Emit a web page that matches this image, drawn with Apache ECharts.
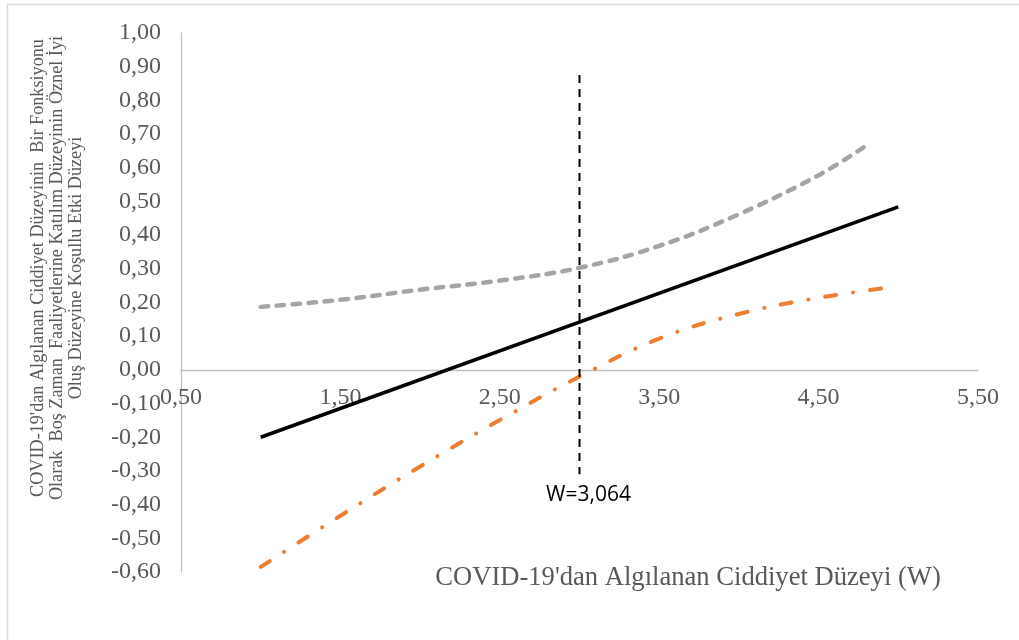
<!DOCTYPE html>
<html>
<head>
<meta charset="utf-8">
<script src="https://cdn.jsdelivr.net/npm/echarts@6/dist/echarts.min.js"></script>
<style>
html,body{margin:0;padding:0;background:#fff;}
#chart{width:1019px;height:640px;}
</style>
</head>
<body>
<div id="chart"></div>
<script>
// ---- data ----
const xTickValues = [0.5, 1.5, 2.5, 3.5, 4.5, 5.5];
const yMin = -0.6, yMax = 1.0, yStep = 0.1;

const effectX = [1.0, 5.0];
const effectY = [-0.20, 0.484];

const upperX = [1.0, 1.5, 2.0, 2.5, 3.0, 3.5, 4.0, 4.5, 4.79];
const upperY = [0.187, 0.208, 0.238, 0.265, 0.303, 0.368, 0.462, 0.578, 0.663];

const lowerX = [1.0, 1.5, 2.0, 2.5, 3.0, 3.5, 4.0, 4.5, 4.92];
const lowerY = [-0.585, -0.433, -0.287, -0.149, -0.02, 0.093, 0.166, 0.214, 0.243];

const jnLineX = [3.0, 3.0];
const jnLineY = [0.875, -0.31];
const jnLabel = 'W=3,064';

const xTitle = "COVID-19'dan Algılanan Ciddiyet Düzeyi (W)";
const yTitleLines = [
  "COVID-19'dan Algılanan Ciddiyet Düzeyinin  Bir Fonksiyonu",
  "Olarak  Boş Zaman  Faaliyetlerine Katılım Düzeyinin Öznel İyi",
  "Oluş Düzeyine Koşullu Etki Düzeyi"
];

// ---- build ----
const zip = (xs, ys) => xs.map((x, i) => [x, ys[i]]);
const fmt = v => v.toFixed(2).replace('.', ',');

const W = 1019, H = 640;
const grid = {left: 181, right: 41, top: 33, bottom: 68};
const plotH = H - grid.top - grid.bottom;
// move the x axis (line + labels) up to y = 0
const xAxisOffset = -((0 - yMin) / (yMax - yMin)) * plotH;

const chart = echarts.init(document.getElementById('chart'), null, {renderer: 'canvas'});
const serif = 'Liberation Serif';
const grey = '#595959';

chart.setOption({
  animation: false,
  backgroundColor: '#fff',
  grid: Object.assign({containLabel: false}, grid),
  xAxis: {
    type: 'value', min: 0.5, max: 5.5, position: 'bottom', offset: xAxisOffset,
    axisLine: {show: true, onZero: false, lineStyle: {color: '#bfbfbf', width: 1.3}},
    axisTick: {show: false},
    splitLine: {show: false},
    axisLabel: {
      customValues: xTickValues,
      formatter: fmt,
      fontFamily: serif, fontSize: 24, color: grey, margin: 16,
      showMinLabel: true, showMaxLabel: true
    }
  },
  yAxis: {
    type: 'value', min: yMin, max: yMax, interval: yStep,
    axisLine: {show: true, lineStyle: {color: '#bfbfbf', width: 1.3}},
    axisTick: {show: false},
    splitLine: {show: false},
    axisLabel: {formatter: fmt, fontFamily: serif, fontSize: 24, color: grey, margin: 20}
  },
  graphic: [
    {type: 'rect', left: 5, top: 2, shape: {x: 0, y: 0, width: 1030, height: 650},
     style: {fill: 'none', stroke: '#d9d9d9', lineWidth: 1.5}, silent: true, z: -1},
    {type: 'text', x: 688, y: 578,
     style: {text: xTitle, fontFamily: serif, fontSize: 26.6, fill: grey, textAlign: 'center', textVerticalAlign: 'middle'}},
    {type: 'text', x: 57, y: 268, rotation: Math.PI / 2,
     style: {text: yTitleLines.join('\n'), fontFamily: serif, fontSize: 18.2, lineHeight: 19, fill: grey, textAlign: 'center', textVerticalAlign: 'middle'}}
  ],
  series: [
    {
      type: 'line', name: 'upper', data: zip(upperX, upperY), symbol: 'none', smooth: 0.4,
      lineStyle: {color: '#a5a5a5', width: 4.5, type: [7.5, 8.5], cap: 'round'}
    },
    {
      type: 'line', name: 'lower', data: zip(lowerX, lowerY), symbol: 'none', smooth: 0.4,
      lineStyle: {color: '#ed7d31', width: 4, type: [11, 17, 0.1, 17], cap: 'round'}
    },
    {
      type: 'line', name: 'effect', data: zip(effectX, effectY), symbol: 'none',
      lineStyle: {color: '#000', width: 3.6}
    },
    {
      type: 'line', name: 'jn', symbol: 'circle', symbolSize: 1, showSymbol: true,
      itemStyle: {color: 'rgba(0,0,0,0)'},
      data: jnLineX.map((x, i) => i === 1
        ? {value: [x, jnLineY[i]], label: {show: true, position: 'bottom', distance: 10, offset: [9, 0],
            formatter: jnLabel, fontFamily: 'Open Sans', fontSize: 21, color: '#000'}}
        : [x, jnLineY[i]]),
      lineStyle: {color: '#000', width: 2, type: [8, 6]}
    }
  ]
});
</script>
</body>
</html>
